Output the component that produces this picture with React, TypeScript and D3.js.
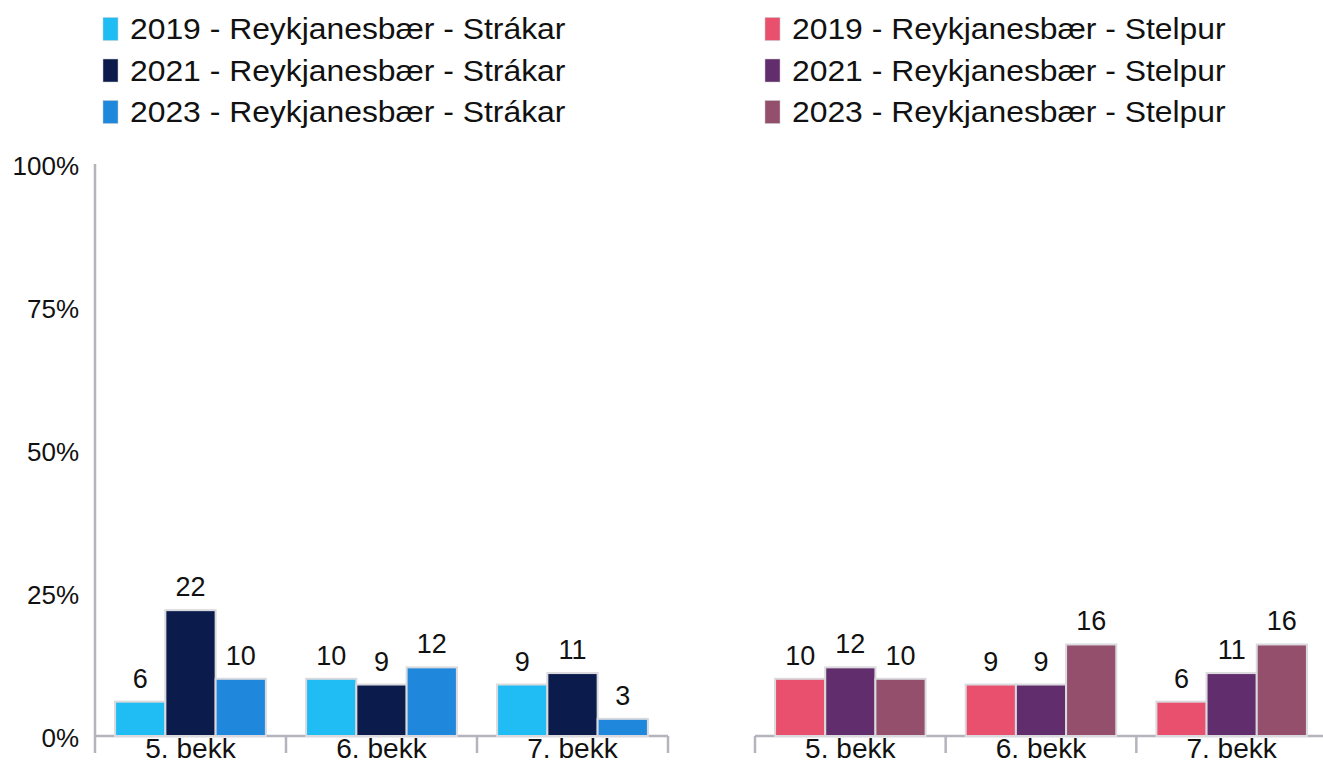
import React from "react";
import { scaleBand, scaleLinear } from "d3";

const categories = ["5. bekk", "6. bekk", "7. bekk"];
const yTicks = [0, 25, 50, 75, 100];

const boysSeries = ["2019 - Reykjanesbær - Strákar", "2021 - Reykjanesbær - Strákar", "2023 - Reykjanesbær - Strákar"];
const girlsSeries = ["2019 - Reykjanesbær - Stelpur", "2021 - Reykjanesbær - Stelpur", "2023 - Reykjanesbær - Stelpur"];

// values per category, one array per year
const boys2019 = [6, 10, 9];
const boys2021 = [22, 9, 11];
const boys2023 = [10, 12, 3];
const girls2019 = [10, 9, 6];
const girls2021 = [12, 9, 11];
const girls2023 = [10, 16, 16];

const boysColors = ["#1fbdf4", "#0b1b4b", "#1f88dc"];
const girlsColors = ["#e8506e", "#622d6c", "#944f6c"];

const width = 1323;
const height = 764;
const font = "'Liberation Sans', Arial, sans-serif";
const axisColor = "#b4b4bc";

const y = scaleLinear().domain([0, 100]).range([736, 164]);

const Panel = ({ x0, x1, values, colors, showYAxis, axisEnd }) => {
    const xGroup = scaleBand().domain(categories).range([x0, x1]);
    const keys = ["a", "b", "c"];
    const xBar = scaleBand()
        .domain(keys)
        .range([0, xGroup.bandwidth()])
        .paddingOuter(0.4);
    return (
        <g>
            {showYAxis && <line x1={x0} x2={x0} y1={y(100)} y2={y(0)} stroke={axisColor} strokeWidth={2.5} />}
            <line x1={x0} x2={axisEnd} y1={y(0)} y2={y(0)} stroke={axisColor} strokeWidth={2.5} />
            {[...categories.map(c => xGroup(c)), x1].map((t, i) => (
                <line key={i} x1={t} x2={t} y1={y(0)} y2={y(0) + 17} stroke={axisColor} strokeWidth={2.5} />
            ))}
            {categories.map((c, ci) => (
                <g key={c} transform={`translate(${xGroup(c)},0)`}>
                    {values.map((s, si) => (
                        <g key={si}>
                            <rect
                                x={xBar(keys[si])}
                                y={y(s[ci])}
                                width={xBar.bandwidth()}
                                height={y(0) - y(s[ci])}
                                fill={colors[si]}
                                stroke="#dadade"
                                strokeWidth={2}
                            />
                            <text
                                x={xBar(keys[si]) + xBar.bandwidth() / 2}
                                y={y(s[ci]) - 14}
                                textAnchor="middle"
                                fontSize={27}
                                fill="#111"
                            >{s[ci]}</text>
                        </g>
                    ))}
                    <text x={xGroup.bandwidth() / 2} y={758} textAnchor="middle" fontSize={27} fill="#111" transform="scale(1.04,1)" style={{ transformBox: "fill-box", transformOrigin: "center" }}>{c}</text>
                </g>
            ))}
        </g>
    );
};

const Legend = ({ x, labels, colors }) => (
    <g>
        {labels.map((l, i) => (
            <g key={l} transform={`translate(${x},${29 + i * 41.5})`}>
                <rect x={0} y={-11.5} width={15} height={23} fill={colors[i]} stroke="#ccc" strokeWidth={0.5} />
                <text x={27} y={0} dominantBaseline="central" fontSize={29.5} fill="#111" transform="scale(1.08,1)" style={{ transformBox: "fill-box", transformOrigin: "left" }}>{l}</text>
            </g>
        ))}
    </g>
);

const App = () => {
    return (
        <svg width={width} height={height} style={{ position: "absolute", left: 0, top: 0, fontFamily: font, background: "#fff" }}>
            <Legend x={103} labels={boysSeries} colors={boysColors} />
            <Legend x={765} labels={girlsSeries} colors={girlsColors} />
            {yTicks.map(t => (
                <text key={t} x={79} y={y(t) + 2} textAnchor="end" dominantBaseline="central" fontSize={26} fill="#111">{t}%</text>
            ))}
            <Panel x0={95} x1={668} axisEnd={668} values={[boys2019, boys2021, boys2023]} colors={boysColors} showYAxis={true} />
            <Panel x0={755} x1={1327} axisEnd={1323} values={[girls2019, girls2021, girls2023]} colors={girlsColors} showYAxis={false} />
        </svg>
    );
};

export default App;
